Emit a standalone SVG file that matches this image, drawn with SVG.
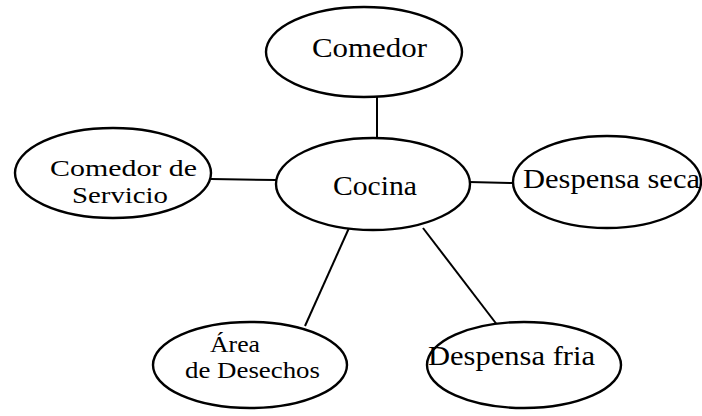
<svg xmlns="http://www.w3.org/2000/svg" width="702" height="416" viewBox="0 0 702 416">
<style>
.n{fill:#fff;stroke:#000;stroke-width:2.4}
.c{stroke:#000;stroke-width:2;fill:none}
text{font-family:"Liberation Serif","Times New Roman",serif;font-size:27px;fill:#000}
text.s{font-size:23px}
</style>
<rect width="702" height="416" fill="#fff"/>
<g id="connectors">
<line class="c" x1="377" y1="96" x2="377" y2="140"/>
<line class="c" x1="211" y1="179" x2="276" y2="180"/>
<line class="c" x1="469" y1="182" x2="513" y2="183"/>
<line class="c" x1="349" y1="228" x2="305" y2="326"/>
<line class="c" x1="423" y1="228" x2="498" y2="326"/>
</g>
<g id="comedor">
<ellipse class="n" cx="364" cy="52" rx="98" ry="45"/>
<text x="312" y="57" textLength="115" lengthAdjust="spacingAndGlyphs">Comedor</text>
</g>
<g id="comedor-servicio">
<ellipse class="n" cx="113" cy="173" rx="98" ry="45"/>
<text class="s" x="50" y="176" textLength="147" lengthAdjust="spacingAndGlyphs">Comedor de</text>
<text class="s" x="72" y="203" textLength="96" lengthAdjust="spacingAndGlyphs">Servicio</text>
</g>
<g id="cocina">
<ellipse class="n" cx="373" cy="184" rx="97" ry="46"/>
<text x="333" y="195" textLength="84" lengthAdjust="spacingAndGlyphs">Cocina</text>
</g>
<g id="despensa-seca">
<ellipse class="n" cx="607" cy="182" rx="94" ry="46"/>
<text x="523" y="188" textLength="177" lengthAdjust="spacingAndGlyphs">Despensa seca</text>
</g>
<g id="area-desechos">
<ellipse class="n" cx="250" cy="365" rx="97" ry="43"/>
<text class="s" x="210" y="352" textLength="50" lengthAdjust="spacingAndGlyphs">Área</text>
<text class="s" x="185" y="378" textLength="135" lengthAdjust="spacingAndGlyphs">de Desechos</text>
</g>
<g id="despensa-fria">
<ellipse class="n" cx="524" cy="365" rx="97" ry="43"/>
<text x="428" y="365" textLength="167" lengthAdjust="spacingAndGlyphs">Despensa fria</text>
</g>
</svg>
